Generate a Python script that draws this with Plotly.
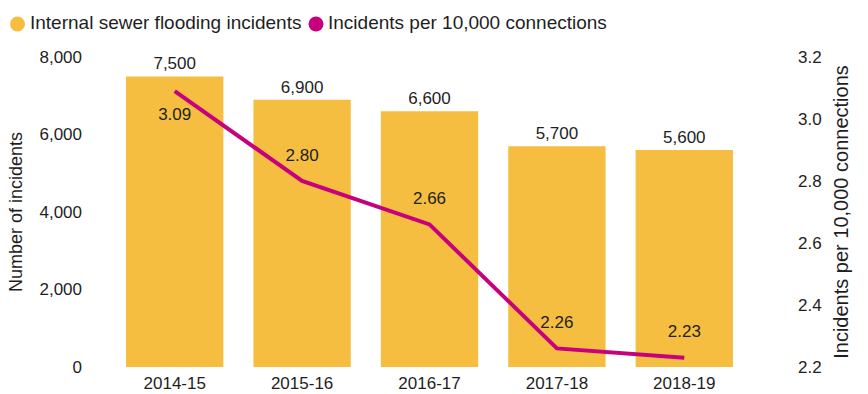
import plotly.graph_objects as go

years = ["2014-15", "2015-16", "2016-17", "2017-18", "2018-19"]
incidents = [7500, 6900, 6600, 5700, 5600]
per_10k = [3.09, 2.80, 2.66, 2.26, 2.23]
rate_label_pos = ["bottom center", "top center", "top center", "top center", "top center"]

BAR = "#F5BE41"
LINE = "#C7007D"
TEXT = "#1e1e1e"
FONT = "Liberation Sans, Arial, sans-serif"

# plot area in pixels (used to place the hand-built legend)
L, R, T, B = 111, 120, 57, 27
W, H = 868, 394
PW, PH = W - L - R, H - T - B


def px_x(px):
    return (px - L) / PW


def px_y(py):
    return (H - B - py) / PH


fig = go.Figure()

fig.add_trace(go.Bar(
    x=years, y=incidents, name="Internal sewer flooding incidents",
    marker=dict(color=BAR, line=dict(width=0)),
    texttemplate="%{y:,}", textposition="outside", cliponaxis=False,
    textfont=dict(size=17, color=TEXT),
    showlegend=False, yaxis="y",
))

fig.add_trace(go.Scatter(
    x=years, y=per_10k, name="Incidents per 10,000 connections",
    mode="lines+markers+text", line=dict(color=LINE, width=4),
    marker=dict(size=24, color="rgba(0,0,0,0)"),
    texttemplate="%{y:.2f}", textposition=rate_label_pos,
    textfont=dict(size=17, color=TEXT),
    showlegend=False, yaxis="y2", cliponaxis=False,
))

# legend: round swatches with labels
legend_items = [("Internal sewer flooding incidents", BAR, 17.5, 28),
                ("Incidents per 10,000 connections", LINE, 316, 326)]
shapes, annotations = [], []
for label, col, cx, tx in legend_items:
    shapes.append(dict(type="circle", xref="paper", yref="paper",
                       xsizemode="pixel", ysizemode="pixel",
                       xanchor=px_x(cx), yanchor=px_y(24),
                       x0=-7.5, x1=7.5, y0=-7.5, y1=7.5,
                       fillcolor=col, line=dict(width=0)))
    annotations.append(dict(text=label, xref="paper", yref="paper",
                            x=px_x(tx), y=px_y(22.5), xanchor="left", yanchor="middle",
                            showarrow=False, font=dict(size=19, color=TEXT)))

fig.update_layout(
    width=W, height=H,
    margin=dict(l=L, r=R, t=T, b=B, autoexpand=False),
    paper_bgcolor="white", plot_bgcolor="white",
    font=dict(family=FONT, size=17, color=TEXT),
    bargap=0.236,
    showlegend=False,
    shapes=shapes, annotations=annotations,
    xaxis=dict(showgrid=False, showline=False, ticks="", tickfont=dict(size=17),
               ticklabelstandoff=4),
    yaxis=dict(range=[0, 8000], dtick=2000, tickformat=",", showgrid=False,
               zeroline=False, showline=False, ticklabelstandoff=28,
               tickfont=dict(size=17),
               title=dict(text="Number of incidents", font=dict(size=18), standoff=12)),
    yaxis2=dict(range=[2.2, 3.2], dtick=0.2, tickformat=".1f", overlaying="y",
                side="right", showgrid=False, zeroline=False, showline=False,
                ticklabelstandoff=49, tickfont=dict(size=17),
                title=dict(text="Incidents per 10,000 connections", font=dict(size=20),
                           standoff=13)),
)

fig.write_html("out.html")
